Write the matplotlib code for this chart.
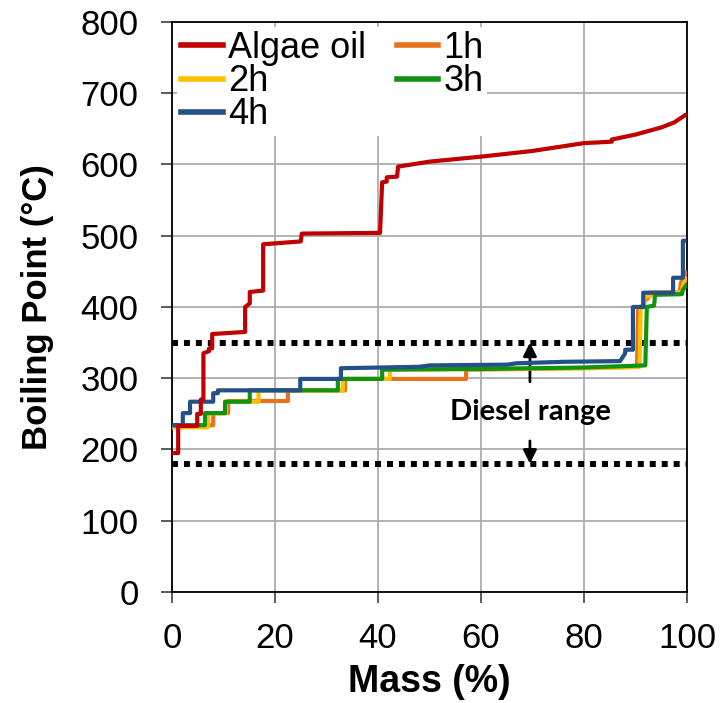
import matplotlib.pyplot as plt

plt.rcParams['font.family'] = ['Liberation Sans', 'DejaVu Sans']

# distillation curves: mass (%) vs boiling point (deg C)
algae_mass = [0, 1.2, 1.2, 4.9, 4.9, 5.6, 5.6, 6.1, 6.1, 7.2, 7.2, 7.8, 7.8, 14.2, 14.2, 15.1, 15.1,
              17.7, 17.7, 25.0, 25.2, 40.4, 40.8, 41.7, 41.7, 43.7, 43.9, 50, 60, 70, 80, 85.4, 85.4,
              90, 95, 97.5, 99.6]
algae_bp = [195, 195, 233, 233, 250, 250, 270, 270, 335, 338, 342, 342, 362, 365, 400, 405, 421,
            423, 488, 492, 503, 504, 575, 576, 582, 583, 597, 604, 611, 619, 630, 632, 635,
            642, 652, 659, 669]

h1_mass = [0, 8.0, 8.0, 10.9, 10.9, 22.5, 22.5, 33.6, 33.6, 57.1, 57.1, 70, 85, 90.3, 90.5, 91.6,
           91.8, 92.4, 92.6, 98.6, 98.8, 99.8]
h1_bp = [234, 234, 251, 251, 268, 268, 283, 283, 299, 299, 312, 313, 315, 316, 398, 400,
         410, 412, 420, 421, 434, 448]

h2_mass = [0, 7.0, 7.0, 10.5, 10.5, 16.8, 16.8, 33.2, 33.2, 42.3, 42.3, 60, 82, 90.8, 91.0, 91.6,
           91.8, 93.2, 93.4, 99.0, 99.2, 99.8]
h2_bp = [231, 231, 251, 251, 267, 267, 283, 283, 299, 299, 312, 313, 314, 316, 400, 405,
         414, 416, 420, 421, 430, 440]

h3_mass = [0, 6.4, 6.4, 10.3, 10.3, 15.1, 15.1, 32.2, 32.2, 40.8, 40.8, 60, 80, 91.9, 92.2, 93.6,
           93.8, 99.0, 99.2, 99.8]
h3_bp = [234, 234, 251, 251, 267, 267, 283, 283, 299, 299, 312, 313, 315, 318, 400, 402,
         417, 418, 424, 430]

h4_mass = [0, 2.1, 2.1, 3.5, 3.5, 8.0, 8.0, 8.9, 8.9, 24.9, 24.9, 32.8, 32.8, 48, 50, 65, 67, 76,
           87, 88, 88, 89.5, 89.5, 91.5, 91.5, 97.3, 97.3, 99.2, 99.2, 99.5]
h4_bp = [234, 234, 251, 251, 267, 267, 279, 279, 283, 283, 299, 299, 314, 316, 318, 319, 321, 323,
         324, 335, 340, 340, 400, 400, 420, 420, 441, 441, 493, 493]

diesel_low, diesel_high = 180, 350
arrow_x = 69.5

fig = plt.figure(figsize=(7.27, 7.03), dpi=100)
ax = fig.add_axes([0.2366, 0.158, 0.7084, 0.8107])

lw = 3.0
l1, = ax.plot(h1_mass, h1_bp, color='#E8711B', lw=lw, label='1h', zorder=3)
l2, = ax.plot(h2_mass, h2_bp, color='#FFC000', lw=lw, label='2h', zorder=4)
l3, = ax.plot(h3_mass, h3_bp, color='#119311', lw=lw, label='3h', zorder=5)
l4, = ax.plot(h4_mass, h4_bp, color='#24508A', lw=lw, label='4h', zorder=6)
l0, = ax.plot(algae_mass, algae_bp, color='#C00000', lw=lw, label='Algae oil', zorder=7)

for yv in (diesel_low, diesel_high):
    ax.plot([0, 100], [yv, yv], color='black', lw=4.3, linestyle=(0, (1, 1)),
            dash_capstyle='butt', zorder=2)

ax.annotate('', xy=(arrow_x, diesel_high), xytext=(arrow_x, 295),
            arrowprops=dict(arrowstyle='-|>', color='black', lw=2, mutation_scale=20,
                            shrinkA=0, shrinkB=0))
ax.annotate('', xy=(arrow_x, diesel_low), xytext=(arrow_x, 212),
            arrowprops=dict(arrowstyle='-|>', color='black', lw=2, mutation_scale=20,
                            shrinkA=0, shrinkB=0))
ax.text(arrow_x, 252, 'Diesel range', ha='center', va='center', fontsize=21,
        fontweight='bold', family=['Lato', 'DejaVu Sans'])

ax.set_xlim(0, 100)
ax.set_ylim(0, 800)
ax.set_xticks(range(0, 101, 20))
ax.set_yticks(range(0, 801, 100))
ax.grid(True, color='#A6A6A6', lw=1.2)
ax.set_axisbelow(True)
for s in ax.spines.values():
    s.set_color('black')
    s.set_linewidth(1.3)
ax.tick_params(labelsize=25, direction='out', length=8, width=1.2, color='#404040')
ax.tick_params(axis='x', pad=14)
ax.tick_params(axis='y', pad=16)

ax.set_xlabel('Mass (%)', fontsize=27, fontweight='bold', labelpad=6)
ax.set_ylabel('Boiling Point (°C)', fontsize=25, fontweight='bold', labelpad=19)

leg = ax.legend([l0, l2, l4, l1, l3], ['Algae oil', '2h', '4h', '1h', '3h'], ncol=2,
                loc='upper left', bbox_to_anchor=(0.0, 1.0), fontsize=26, frameon=True,
                handlelength=1.15, handletextpad=0.15, columnspacing=0.85, labelspacing=-0.05,
                borderaxespad=0.15, borderpad=0.1)
leg.get_frame().set_facecolor('white')
leg.get_frame().set_edgecolor('none')
leg.get_frame().set_alpha(1)
for h in leg.get_lines():
    h.set_linewidth(4)

fig.savefig('out.png', dpi=100)
